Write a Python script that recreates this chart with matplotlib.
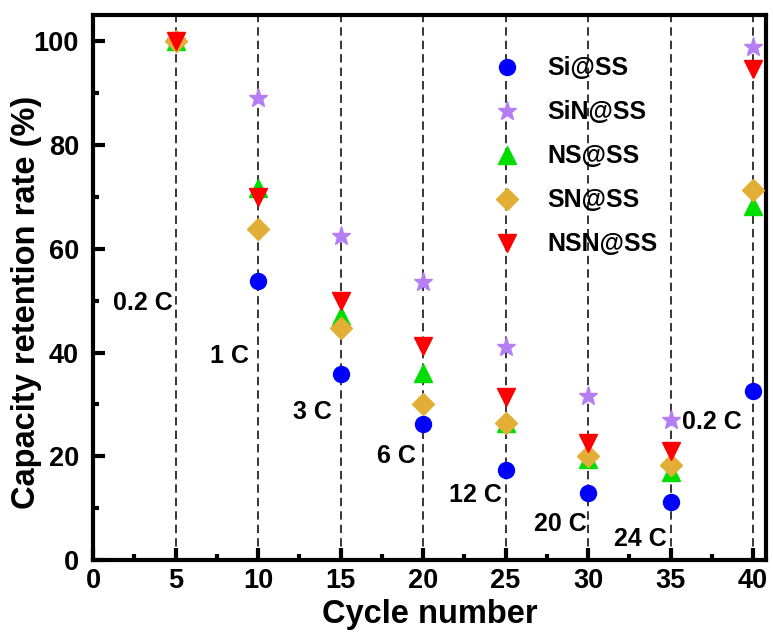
import matplotlib
matplotlib.use('Agg')
import matplotlib.pyplot as plt
from matplotlib.ticker import MultipleLocator

plt.rcParams['font.family'] = ['Liberation Sans', 'DejaVu Sans']
plt.rcParams['font.weight'] = 'bold'

cycles = [5, 10, 15, 20, 25, 30, 35, 40]
si = [100, 53.7, 35.8, 26.2, 17.3, 12.9, 11.2, 32.6]
sin = [100, 89.0, 62.5, 53.6, 41.0, 31.7, 27.0, 98.8]
ns = [100, 71.8, 47.0, 36.0, 26.5, 19.5, 17.0, 68.2]
sn = [100, 63.8, 44.7, 30.0, 26.5, 20.0, 18.3, 71.3]
nsn = [100, 70.0, 50.0, 41.3, 31.5, 22.5, 21.0, 94.6]

rate_labels = ['0.2 C', '1 C', '3 C', '6 C', '12 C', '20 C', '24 C', '0.2 C']
rate_x = [3.0, 8.3, 13.3, 18.4, 23.2, 28.3, 33.2, 37.5]
rate_y = [49.5, 39.3, 28.6, 20.0, 12.6, 7.0, 4.0, 26.7]

fig = plt.figure(figsize=(7.73, 6.35), dpi=100)
ax = fig.add_axes([0.1203, 0.118, 0.871, 0.858])

for c in cycles:
    ax.axvline(c, color='black', linestyle=(0, (5.5, 3.3)), linewidth=1.1, zorder=1)

ax.plot(cycles, si, 'o', color='#0000FF', markersize=11.5, label='Si@SS', zorder=3)
ax.plot(cycles, sin, '*', color='#B57EF5', markersize=14, label='SiN@SS', zorder=3)
ax.plot(cycles, ns, '^', color='#00DD00', markersize=13, label='NS@SS', zorder=3)
ax.plot(cycles, sn, 'D', color='#E3AE36', markersize=10.7, label='SN@SS', zorder=3)
ax.plot(cycles, nsn, 'v', color='#FF0000', markersize=13, label='NSN@SS', zorder=3)

for lab, x, y in zip(rate_labels, rate_x, rate_y):
    ax.text(x, y, lab, fontsize=18, fontweight='bold', ha='center', va='center')

ax.set_xlim(0, 40.8)
ax.set_ylim(0, 105)
ax.xaxis.set_major_locator(MultipleLocator(5))
ax.xaxis.set_minor_locator(MultipleLocator(2.5))
ax.yaxis.set_major_locator(MultipleLocator(20))
ax.yaxis.set_minor_locator(MultipleLocator(10))
ax.tick_params(which='major', direction='in', length=8.5, width=3, labelsize=19.5)
ax.tick_params(axis='x', which='major', pad=6)
ax.tick_params(axis='y', which='major', pad=10)
ax.tick_params(which='minor', direction='in', length=4, width=3)
for sp in ax.spines.values():
    sp.set_linewidth(3)
for t in ax.get_xticklabels() + ax.get_yticklabels():
    t.set_fontweight('bold')

ax.set_xlabel('Cycle number', fontsize=23.5, fontweight='bold', labelpad=3)
ax.set_ylabel('Capacity retention rate (%)', fontsize=23.5, fontweight='bold')
ax.yaxis.set_label_coords(-0.075, 0.473)

ax.legend(loc='upper left', bbox_to_anchor=(0.574, 0.943), frameon=False, fontsize=18,
          handlelength=1.4, handletextpad=0.9, labelspacing=0.8, borderaxespad=0,
          numpoints=1)

fig.savefig('out.png', dpi=100)
